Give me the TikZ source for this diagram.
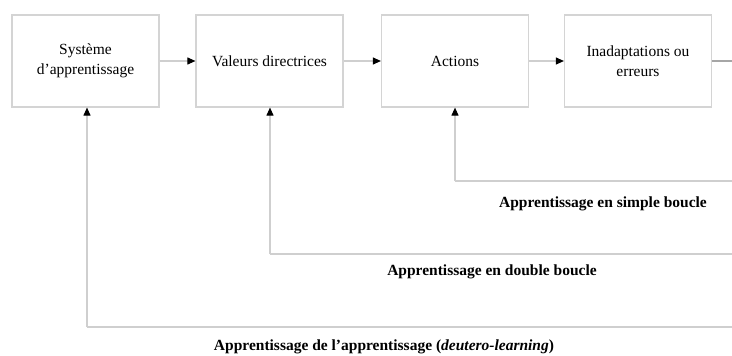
\documentclass[tikz,border=0pt]{standalone}
\usepackage{fontspec}
\setmainfont{Liberation Serif}
\usetikzlibrary{arrows.meta}
\definecolor{linegray}{HTML}{CFCFCF}
\definecolor{boxgray}{HTML}{D4D4D4}
\tikzset{
  stepbox/.style={draw=boxgray, line width=1.2pt, minimum width=147pt, minimum height=92pt, align=center, font=\fontsize{15.5}{20}\selectfont, inner sep=0pt},
  flow/.style={draw=linegray, line width=1.1pt, -{Triangle[length=8pt,width=7pt,color=black]}},
  loopline/.style={draw=linegray, line width=1.1pt},
  looplabel/.style={font=\bfseries\fontsize{15.5}{18}\selectfont, inner sep=0pt}
}
\begin{document}
\begin{tikzpicture}[x=1pt,y=-1pt]
\useasboundingbox (0,0) rectangle (732,356);
\node[stepbox] (s1) at (85.5,61) {Système\\d'apprentissage};
\node[stepbox] (s2) at (269.5,61) {Valeurs directrices};
\node[stepbox] (s3) at (455,61) {Actions};
\node[stepbox] (s4) at (638,61) {Inadaptations ou\\erreurs};
\coordinate (out) at (732,61);
\draw[flow] (s1) -- (s2);
\draw[flow] (s2) -- (s3);
\draw[flow] (s3) -- (s4);
\draw[draw=gray!70, line width=1.2pt] (s4.east) -- (out);
% loops
\coordinate (r1) at (732,181);
\coordinate (c1) at (455,181);
\coordinate (r2) at (732,254);
\coordinate (c2) at (270,254);
\coordinate (r3) at (732,327);
\coordinate (c3) at (87,327);
\draw[loopline] (r1) -- (c1);
\draw[flow] (c1) -- (c1 |- s3.south);
\draw[loopline] (r2) -- (c2);
\draw[flow] (c2) -- (c2 |- s2.south);
\draw[loopline] (r3) -- (c3);
\draw[flow] (c3) -- (c3 |- s1.south);
\node[looplabel] (l1) at (603,204) {Apprentissage en simple boucle};
\node[looplabel] (l2) at (492,272) {Apprentissage en double boucle};
\node[looplabel] (l3) at (384,347) {Apprentissage de l'apprentissage (\textit{deutero-learning})};
\end{tikzpicture}
\end{document}
